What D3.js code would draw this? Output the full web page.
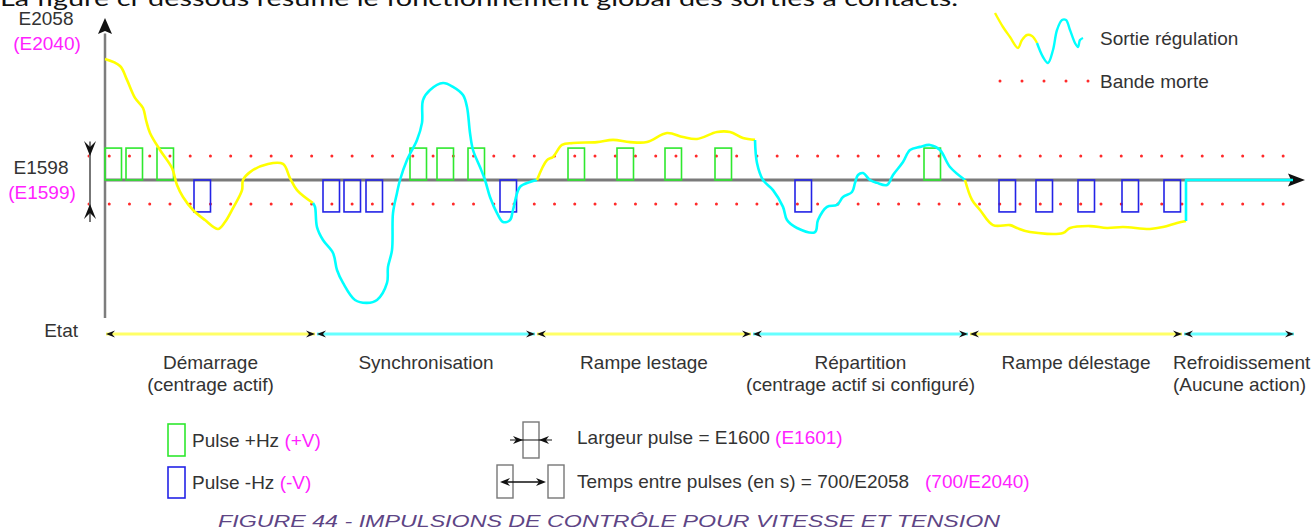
<!DOCTYPE html>
<html>
<head>
<meta charset="utf-8">
<script src="https://cdn.jsdelivr.net/npm/d3@7"></script>
<style>
  body { margin: 0; background: #fff; }
  svg { display: block; font-family: "Liberation Sans", Arial, sans-serif; }
  .lbl { fill: #333; font-size: 19px; white-space: pre; }
  .mag { fill: #ff22ff; }
</style>
</head>
<body>
<div id="chart"></div>
<script>
// regulation output, [time, value], one array per state
// value unit = dead band (E1598), so +-1 is the dotted band
const demarrageCurve = [
  [0, 5.04], [15, 4.75], [22, 4.17], [30, 3.42], [38, 3.0], [41, 2.5], [45, 1.96],
  [55, 1.25], [67, 0.5], [72, -0.21], [78, -0.71], [88, -1.25], [100, -1.67],
  [113, -2.04], [120, -1.75], [128, -1.17], [137, -0.42], [138, 0], [145, 0.33],
  [163, 0.67], [178, 0.67], [185, 0.08], [192, -0.42], [208, -0.96]
];
const synchroCurve = [
  [208, -0.96], [210, -1.12], [212, -1.96], [218, -2.5], [228, -3.04], [232, -3.75],
  [238, -4.29], [250, -5.0], [262, -5.12], [272, -5.0], [282, -4.29], [283, -3.62],
  [287, -2.92], [288, -1.38], [292, -0.54], [295, 0], [302, 0.83], [312, 1.67],
  [317, 2.38], [318, 3.33], [325, 3.75], [338, 4.04], [348, 3.88], [358, 3.54],
  [362, 3.04], [365, 1.96], [368, 1.25], [375, 0.54], [380, 0], [385, -0.71],
  [392, -1.38], [398, -1.75], [405, -1.67], [408, -1.25], [415, -0.29], [425, -0.08], [432, 0]
];
const lestageCurve = [
  [432, 0], [442, 0.83], [448, 0.96], [457, 1.46], [468, 1.54], [492, 1.58], [508, 1.67],
  [525, 1.58], [542, 1.58], [562, 1.96], [578, 1.79], [592, 1.71], [612, 2.0],
  [625, 2.0], [638, 1.75], [650, 1.67]
];
const repartitionCurve = [
  [650, 1.67], [652, 0.71], [658, 0], [668, -0.42], [678, -1.12], [682, -1.67],
  [692, -2.0], [710, -2.17], [713, -1.67], [722, -1.12], [732, -1.04], [738, -0.71],
  [747, -0.5], [750, -0.12], [753, 0.21], [758, 0.29], [765, 0], [772, -0.12],
  [782, -0.21], [788, 0.21], [798, 0.75], [805, 1.25], [815, 1.38], [825, 1.46],
  [835, 1.25], [845, 0.54], [860, 0]
];
const delestageCurve = [
  [860, 0], [867, -0.83], [875, -1.25], [888, -1.88], [905, -1.88], [912, -2.0],
  [925, -2.17], [958, -2.21], [965, -2.0], [985, -1.92], [1002, -2.0], [1018, -1.96],
  [1045, -2.04], [1058, -1.96], [1072, -1.79], [1081, -1.71]
];
const refroidCurve = [[1081, -1.71], [1081, 0], [1188, 0]];

// pulse start times
const plusPulses = [0, 21, 52, 305, 332, 363, 463, 512, 560, 610, 819];
const minusPulses = [89, 218, 239, 261, 395, 690, 894, 931, 973, 1017, 1059];
const pulseWidth = 16.5;
const pulseHeight = 1.33;
const deadBand = 1;

const stateBounds = [0, 211, 431, 647, 864, 1078, 1190];
const stateLabels = ["Démarrage", "Synchronisation", "Rampe lestage", "Répartition", "Rampe délestage", "Refroidissement"];
const stateSubLabels = ["(centrage actif)", "", "", "(centrage actif si configuré)", "", "(Aucune action)"];

const yellow = "#ffff00";
const cyan = "#00ffff";

const width = 1314;
const height = 530;

const svg = d3.select("#chart")
  .append("svg")
  .attr("width", width)
  .attr("height", height)
  .attr("viewBox", [0, 0, width, height]);

const x = d3.scaleLinear().domain([0, 1200]).range([105, 1305]);
const y = d3.scaleLinear().domain([-5.75, 6.75]).range([318, 18]);

function arrowHead(tx, ty, dx, dy, L, W, N) {
  const px = -dy, py = dx;
  const bx = tx - dx * L, by = ty - dy * L;
  return `M${tx},${ty}L${bx + px * W},${by + py * W}L${tx - dx * (L - N)},${ty - dy * (L - N)}L${bx - px * W},${by - py * W}Z`;
}

// text cut by the top of the page
svg.append("text")
  .attr("x", 0)
  .attr("y", 6)
  .attr("textLength", 958)
  .attr("lengthAdjust", "spacingAndGlyphs")
  .style("font-family", "Lato, 'Open Sans', sans-serif")
  .style("font-size", "22px")
  .style("fill", "#111")
  .text("La figure ci-dessous résume le fonctionnement global des sorties à contacts.");

// dead band dotted lines
svg.selectAll(".band")
  .data([deadBand, -deadBand])
  .join("line")
  .attr("class", "band")
  .attr("x1", x(-16))
  .attr("x2", x(1180))
  .attr("y1", (d) => y(d))
  .attr("y2", (d) => y(d))
  .attr("stroke", "#ff2a2a")
  .attr("stroke-width", 3)
  .attr("stroke-linecap", "round")
  .attr("stroke-dasharray", "0 20.24");

// axes
svg.append("line")
  .attr("x1", x(0)).attr("x2", x(0))
  .attr("y1", y(6.1)).attr("y2", y(-5.75))
  .attr("stroke", "#7d7d7d").attr("stroke-width", 2.5);
svg.append("path")
  .attr("d", arrowHead(x(0), y(6.75), 0, -1, 16, 7, 3))
  .attr("fill", "#111");
svg.append("line")
  .attr("x1", x(0)).attr("x2", x(1186))
  .attr("y1", y(0)).attr("y2", y(0))
  .attr("stroke", "#7a7a7a").attr("stroke-width", 3);
svg.append("path")
  .attr("d", arrowHead(x(1200), y(0), 1, 0, 17, 6.5, 3))
  .attr("fill", "#111");

// pulses
svg.selectAll(".plus")
  .data(plusPulses)
  .join("rect")
  .attr("class", "plus")
  .attr("x", (d) => x(d))
  .attr("y", y(pulseHeight))
  .attr("width", x(pulseWidth) - x(0))
  .attr("height", y(0) - y(pulseHeight))
  .attr("fill", "none")
  .attr("stroke", "#2ee82e")
  .attr("stroke-width", 1.6);

svg.selectAll(".minus")
  .data(minusPulses)
  .join("rect")
  .attr("class", "minus")
  .attr("x", (d) => x(d))
  .attr("y", y(0))
  .attr("width", x(pulseWidth) - x(0))
  .attr("height", y(-pulseHeight) - y(0))
  .attr("fill", "none")
  .attr("stroke", "#2323e6")
  .attr("stroke-width", 1.6);

// regulation output
const line = d3.line()
  .x((d) => x(d[0]))
  .y((d) => y(d[1]))
  .curve(d3.curveCatmullRom.alpha(0.5));

const segments = [demarrageCurve, synchroCurve, lestageCurve, repartitionCurve, delestageCurve, refroidCurve];
svg.selectAll(".reg")
  .data(segments)
  .join("path")
  .attr("class", "reg")
  .attr("d", (d, i) => (i === 5 ? d3.line().x((p) => x(p[0])).y((p) => y(p[1]))(d) : line(d)))
  .attr("fill", "none")
  .attr("stroke", (d, i) => (i % 2 === 0 ? yellow : cyan))
  .attr("stroke-width", 2.6)
  .attr("stroke-linejoin", "round");

// dead band dimension marker
const mx = x(-15);
svg.append("line")
  .attr("x1", mx).attr("x2", mx)
  .attr("y1", y(1.6)).attr("y2", y(-1.75))
  .attr("stroke", "#777").attr("stroke-width", 2);
svg.append("path").attr("d", arrowHead(mx, y(deadBand), 0, 1, 15, 6, 6)).attr("fill", "#111");
svg.append("path").attr("d", arrowHead(mx, y(-deadBand), 0, -1, 15, 6, 6)).attr("fill", "#111");

// axis labels
const yLabels = svg.append("g").attr("class", "lbl").attr("text-anchor", "middle");
yLabels.append("text").attr("x", 46).attr("y", 25).text("E2058");
yLabels.append("text").attr("x", 47).attr("y", 50).attr("class", "mag").text("(E2040)");
yLabels.append("text").attr("x", 41).attr("y", 174).text("E1598");
yLabels.append("text").attr("x", 42).attr("y", 199).attr("class", "mag").text("(E1599)");

// state row
const stateY = 334;
svg.append("text").attr("class", "lbl").attr("x", 78).attr("y", stateY + 3).attr("text-anchor", "end").text("Etat");

const states = svg.selectAll(".state")
  .data(stateLabels)
  .join("g")
  .attr("class", "state");

states.append("line")
  .attr("x1", (d, i) => x(stateBounds[i]) + 1)
  .attr("x2", (d, i) => x(stateBounds[i + 1]) - 1)
  .attr("y1", stateY).attr("y2", stateY)
  .attr("stroke", (d, i) => (i % 2 === 0 ? "#ffff66" : "#66ffff"))
  .attr("stroke-width", 3);
states.append("path")
  .attr("d", (d, i) => arrowHead(x(stateBounds[i]) + 1, stateY, -1, 0, 9, 3.5, 3))
  .attr("fill", "#111");
states.append("path")
  .attr("d", (d, i) => arrowHead(x(stateBounds[i + 1]) - 1, stateY, 1, 0, 9, 3.5, 3))
  .attr("fill", "#111");

states.append("text")
  .attr("class", "lbl")
  .attr("x", (d, i) => (i === 5 ? x(stateBounds[i]) - 10 : (x(stateBounds[i]) + x(stateBounds[i + 1])) / 2))
  .attr("y", stateY + 35)
  .attr("text-anchor", (d, i) => (i === 5 ? "start" : "middle"))
  .text((d) => d);
states.append("text")
  .attr("class", "lbl")
  .attr("x", (d, i) => (i === 5 ? x(stateBounds[i]) - 10 : (x(stateBounds[i]) + x(stateBounds[i + 1])) / 2))
  .attr("y", stateY + 57)
  .attr("text-anchor", (d, i) => (i === 5 ? "start" : "middle"))
  .text((d, i) => stateSubLabels[i]);

// legend, top right
const legendYellow = [[0, 0], [8, 14], [15, 24], [23, 35], [27, 27], [32, 22], [37, 23], [42, 30]];
const legendCyan = [[42, 30], [48, 44], [53, 50], [58, 37], [62, 17], [67, 7], [71, 7], [75, 17], [80, 30], [83, 34], [85, 27], [88, 25]];
const lg = svg.append("g").attr("transform", "translate(995,13)");
const lline = d3.line().curve(d3.curveCatmullRom.alpha(0.5));
lg.append("path").attr("d", lline(legendYellow)).attr("fill", "none").attr("stroke", yellow).attr("stroke-width", 2.4);
lg.append("path").attr("d", lline(legendCyan)).attr("fill", "none").attr("stroke", cyan).attr("stroke-width", 2.4);
svg.append("text").attr("class", "lbl").attr("x", 1100).attr("y", 45).text("Sortie régulation");
svg.append("line")
  .attr("x1", 1000).attr("x2", 1090).attr("y1", 81).attr("y2", 81)
  .attr("stroke", "#ff2a2a").attr("stroke-width", 3)
  .attr("stroke-linecap", "round").attr("stroke-dasharray", "0 22");
svg.append("text").attr("class", "lbl").attr("x", 1100).attr("y", 88).text("Bande morte");

// legend, bottom
const bl = svg.append("g");
bl.append("rect").attr("x", 168).attr("y", 424).attr("width", 17).attr("height", 32)
  .attr("fill", "none").attr("stroke", "#2ee82e").attr("stroke-width", 1.6);
bl.append("rect").attr("x", 168).attr("y", 467).attr("width", 17).attr("height", 31)
  .attr("fill", "none").attr("stroke", "#2323e6").attr("stroke-width", 1.6);
const t1 = bl.append("text").attr("class", "lbl").attr("x", 192).attr("y", 447);
t1.append("tspan").text("Pulse +Hz ");
t1.append("tspan").attr("class", "mag").text("(+V)");
const t2 = bl.append("text").attr("class", "lbl").attr("x", 192).attr("y", 489);
t2.append("tspan").text("Pulse -Hz ");
t2.append("tspan").attr("class", "mag").text("(-V)");

// pulse width icon
bl.append("rect").attr("x", 523).attr("y", 422).attr("width", 16).attr("height", 36)
  .attr("fill", "none").attr("stroke", "#777").attr("stroke-width", 1.4);
bl.append("line").attr("x1", 510).attr("x2", 552).attr("y1", 440).attr("y2", 440)
  .attr("stroke", "#111").attr("stroke-width", 1.2);
bl.append("path").attr("d", arrowHead(523, 440, 1, 0, 10, 4, 3)).attr("fill", "#111");
bl.append("path").attr("d", arrowHead(539, 440, -1, 0, 10, 4, 3)).attr("fill", "#111");
const t3 = bl.append("text").attr("class", "lbl").attr("x", 577).attr("y", 444);
t3.append("tspan").text("Largeur pulse = E1600 ");
t3.append("tspan").attr("class", "mag").text("(E1601)");

// time between pulses icon
bl.append("rect").attr("x", 497).attr("y", 465).attr("width", 16).attr("height", 33)
  .attr("fill", "none").attr("stroke", "#777").attr("stroke-width", 1.4);
bl.append("rect").attr("x", 548).attr("y", 465).attr("width", 16).attr("height", 33)
  .attr("fill", "none").attr("stroke", "#777").attr("stroke-width", 1.4);
bl.append("line").attr("x1", 503).attr("x2", 543).attr("y1", 482).attr("y2", 482)
  .attr("stroke", "#111").attr("stroke-width", 1.4);
bl.append("path").attr("d", arrowHead(500, 482, -1, 0, 10, 4, 3)).attr("fill", "#111");
bl.append("path").attr("d", arrowHead(546, 482, 1, 0, 10, 4, 3)).attr("fill", "#111");
const t4 = bl.append("text").attr("class", "lbl").attr("x", 577).attr("y", 488);
t4.append("tspan").text("Temps entre pulses (en s) = 700/E2058   ");
t4.append("tspan").attr("class", "mag").text("(700/E2040)");

// caption
svg.append("text")
  .attr("x", 218)
  .attr("y", 527)
  .attr("textLength", 782)
  .attr("lengthAdjust", "spacingAndGlyphs")
  .style("font-size", "17px")
  .style("font-style", "italic")
  .style("fill", "#5e4585")
  .text("FIGURE 44 - IMPULSIONS DE CONTRÔLE POUR VITESSE ET TENSION");
</script>
</body>
</html>
